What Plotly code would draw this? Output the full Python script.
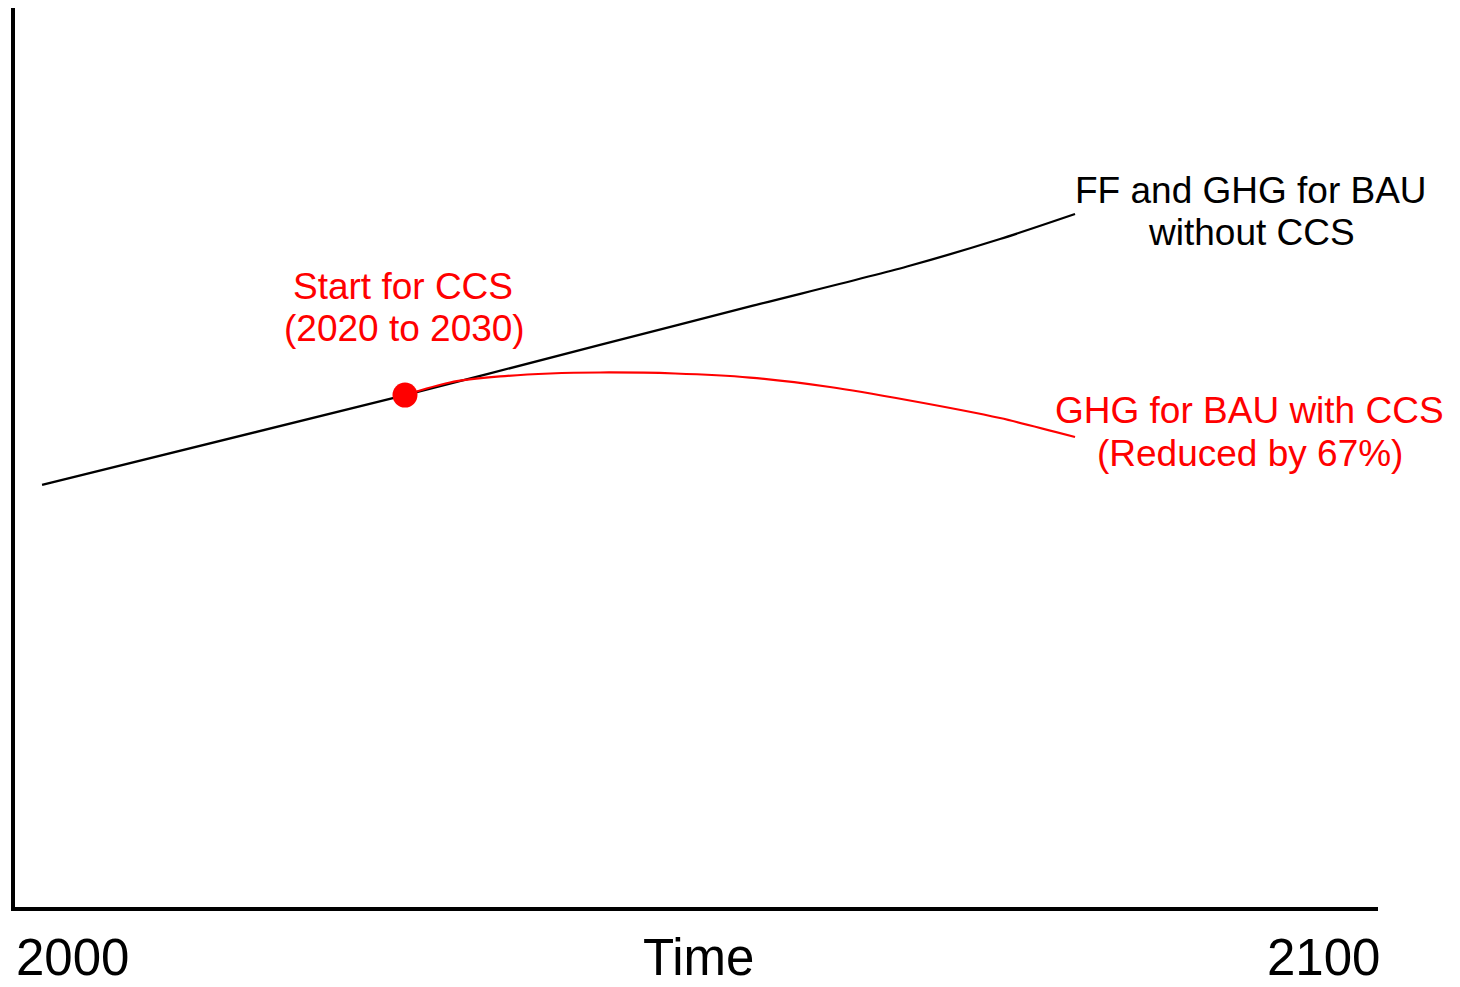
import plotly.graph_objects as go

# Data (x in years, y in arbitrary emission units)
bau_years = [2002.2, 2028.77, 2043.05, 2054.03, 2065.52, 2072.33, 2077.82]
bau_values = [47.01, 56.98, 62.53, 66.80, 71.23, 74.28, 77.05]

ccs_years = [2028.77, 2032.06, 2035.72, 2039.39, 2043.05, 2048.54, 2054.03,
             2059.88, 2065.52, 2072.33, 2077.82]
ccs_values = [56.98, 58.37, 59.04, 59.37, 59.48, 59.37, 58.92,
              57.87, 56.43, 54.43, 52.33]

start_year = [2028.77]
start_value = [56.98]

tick_labels = ["2000", "Time", "2100"]

FONT = "Arial, Liberation Sans, sans-serif"

fig = go.Figure()
fig.add_trace(go.Scatter(x=bau_years, y=bau_values, mode="lines",
                         line=dict(color="black", width=2.3, shape="spline", smoothing=0.8),
                         showlegend=False, hoverinfo="skip"))
fig.add_trace(go.Scatter(x=ccs_years, y=ccs_values, mode="lines",
                         line=dict(color="#ff0000", width=2.2, shape="spline", smoothing=0.8),
                         showlegend=False, hoverinfo="skip"))
fig.add_trace(go.Scatter(x=start_year, y=start_value, mode="markers",
                         marker=dict(color="#ff0000", size=25),
                         showlegend=False, hoverinfo="skip"))

# page pixel -> coordinates (page has an 8px body margin)
def px(p):
    return 2000 + (p - 12) / 13.66

def py(p):
    return (909 - p) / 9.02

def ppx(p):
    return (p - 12) / 1366

def ppy(p):
    return (909 - p) / 901

# axis lines
fig.add_shape(type="line", xref="paper", yref="paper", x0=ppx(13), x1=ppx(13), y0=ppy(911), y1=1.01,
              line=dict(color="black", width=4))
fig.add_shape(type="line", xref="paper", yref="paper", x0=ppx(11), x1=ppx(1378), y0=ppy(909), y1=ppy(909),
              line=dict(color="black", width=4))

def ann(text, x, y, color, size, xref="x", yref="y"):
    fig.add_annotation(text=text, x=x, y=y, xref=xref, yref=yref, showarrow=False,
                       xanchor="center", yanchor="middle",
                       font=dict(family=FONT, size=size, color=color))

ann("Start for CCS", px(403), py(286), "#ff0000", 37)
ann("(2020 to 2030)", px(404), py(328), "#ff0000", 37)
ann("FF and GHG for BAU", px(1251), py(190), "black", 37)
ann("without CCS", px(1251), py(232), "black", 37)
ann("GHG for BAU with CCS", px(1249), py(410), "#ff0000", 37)
ann("(Reduced by 67%)", px(1250), py(453), "#ff0000", 37)

ann(tick_labels[0], ppx(72), ppy(957), "black", 51, xref="paper", yref="paper")
ann(tick_labels[1], ppx(699), ppy(957), "black", 51, xref="paper", yref="paper")
ann(tick_labels[2], ppx(1323), ppy(957), "black", 51, xref="paper", yref="paper")

fig.update_layout(
    width=1452, height=979,
    margin=dict(l=4, r=82, t=0, b=78),
    paper_bgcolor="white", plot_bgcolor="white",
    xaxis=dict(range=[2000, 2100], visible=False, fixedrange=True),
    yaxis=dict(range=[0, 901 / 9.02], visible=False, fixedrange=True),
)

fig.write_html("out.html")
